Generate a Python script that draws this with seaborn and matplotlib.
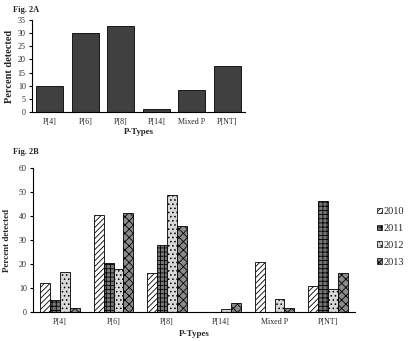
import numpy as np
import pandas as pd
import matplotlib
matplotlib.use("Agg")
import matplotlib.pyplot as plt
import matplotlib.patches as mpatches
import seaborn as sns

# ---- data ----
categories = ["P[4]", "P[6]", "P[8]", "P[14]", "Mixed P", "P[NT]"]
overall = [9.9, 30.1, 32.8, 1.3, 8.2, 17.4]
years = ["2010", "2011", "2012", "2013"]
v2010 = [12.1, 40.3, 16.4, 0.0, 21.0, 10.7]
v2011 = [5.1, 20.4, 28.1, 0.0, 0.0, 46.3]
v2012 = [16.7, 18.1, 48.6, 1.4, 5.6, 9.7]
v2013 = [1.8, 41.3, 35.8, 3.6, 1.8, 16.1]
yticks_a = [0, 5, 10, 15, 20, 25, 30, 35]
yticks_b = [0, 10, 20, 30, 40, 50, 60]

sns.set_style("white")
plt.rcParams["font.family"] = ["Liberation Serif", "DejaVu Serif"]
plt.rcParams["hatch.linewidth"] = 0.6
plt.rcParams["hatch.color"] = "#333333"

W, H = 413, 341
fig = plt.figure(figsize=(W / 100, H / 100), dpi=100)

def px_axes(x0, y0, x1, y1):
    return fig.add_axes([x0 / W, 1 - y1 / H, (x1 - x0) / W, (y1 - y0) / H])

def style_axes(ax, yticks, n):
    for s in ["top", "right"]:
        ax.spines[s].set_visible(False)
    for s in ["left", "bottom"]:
        ax.spines[s].set_color("black")
        ax.spines[s].set_linewidth(0.8)
    ax.set_ylim(yticks[0], yticks[-1])
    ax.set_yticks(yticks)
    ax.set_xlim(-0.5, n - 0.5)
    ax.set_xticks(range(n))
    ax.set_xticklabels(categories)
    ax.set_xticks(np.arange(-0.5, n, 1.0), minor=True)
    ax.tick_params(axis="x", which="major", length=0, labelsize=5.8, pad=4)
    ax.tick_params(axis="x", which="minor", length=2.5, width=0.8, color="black", direction="out")
    ax.tick_params(axis="y", length=2.5, width=0.8, color="black", direction="out", labelsize=5.8, pad=2, left=True)

# ---- Fig 2A ----
axA = px_axes(32, 20, 245, 112)
dfA = pd.DataFrame({"ptype": categories, "pct": overall})
sns.barplot(data=dfA, x="ptype", y="pct", order=categories, color="#404040",
            edgecolor="black", linewidth=0.6, width=0.76, saturation=1, ax=axA)
style_axes(axA, yticks_a, len(categories))
axA.set_xlabel("P-Types", fontsize=6.3, fontweight="bold", labelpad=2)
axA.set_ylabel("Percent detected", fontsize=7.5, fontweight="bold", labelpad=3)
fig.text(13 / W, 1 - 10 / H, "Fig. 2A", fontsize=6, fontweight="bold", va="center", ha="left")

# ---- Fig 2B ----
axB = px_axes(33, 168, 355, 312)
rows = []
for yr, vals in zip(years, [v2010, v2011, v2012, v2013]):
    for c, v in zip(categories, vals):
        rows.append({"ptype": c, "year": yr, "pct": v})
dfB = pd.DataFrame(rows)
faces = ["white", "#767676", "#d8d8d8", "#8a8a8a"]
hatches = ["//////", "++++", "....", "xxxx"]
sns.barplot(data=dfB, x="ptype", y="pct", hue="year", order=categories, hue_order=years,
            palette=faces, edgecolor="black", linewidth=0.6, width=0.74, gap=0,
            saturation=1, legend=False, ax=axB)
for cont, fc, h in zip(axB.containers, faces, hatches):
    for bar in cont:
        bar.set_facecolor(fc)
        bar.set_hatch(h)
        bar.set_edgecolor("black")
style_axes(axB, yticks_b, len(categories))
axB.set_xlabel("P-Types", fontsize=6.5, fontweight="bold", labelpad=3)
axB.set_ylabel("Percent detected", fontsize=6.5, fontweight="bold", labelpad=6)
fig.text(13 / W, 1 - 152 / H, "Fig. 2B", fontsize=6, fontweight="bold", va="center", ha="left")

handles = [mpatches.Patch(facecolor=fc, hatch=h, edgecolor="black", linewidth=0.5, label=yr)
           for fc, h, yr in zip(faces, hatches, years)]
fig.legend(handles=handles, loc="center left", bbox_to_anchor=(372 / W, 1 - 237 / H),
           frameon=False, fontsize=7.5, handlelength=0.45, handleheight=0.45,
           handletextpad=0.15, labelspacing=0.75, borderpad=0)

fig.savefig("out.png", dpi=100)
